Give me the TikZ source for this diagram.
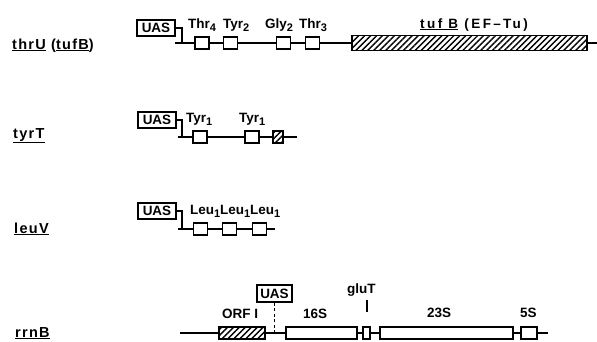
\documentclass[tikz,border=0pt]{standalone}
\usepackage{fontspec}
\setmainfont{Liberation Sans}
\usetikzlibrary{patterns.meta}
\newcommand{\lsub}[1]{\raisebox{-3.5pt}{\fontsize{11}{11}\selectfont #1}}
\tikzset{
  ln/.style={line width=1.7pt},
  uas/.style={draw, line width=1.7pt, inner sep=0pt, minimum height=16pt, minimum width=38pt, font=\fontsize{13.5}{13.5}\selectfont\bfseries},
  trna/.style={draw, line width=1.7pt, fill=white, minimum width=14pt, minimum height=12pt, inner sep=0pt},
  rbox/.style={draw, line width=1.7pt, fill=white, minimum height=12pt, inner sep=0pt},
  hatch/.style={draw, line width=1.7pt, inner sep=0pt, pattern={Lines[angle=45,distance=4.2pt,line width=1.4pt]}},
  lab/.style={anchor=base west, inner sep=0pt, font=\fontsize{13.5}{13.5}\selectfont\bfseries},
  gname/.style={anchor=base west, inner sep=0pt, font=\fontsize{14.5}{14.5}\selectfont\bfseries\addfontfeature{LetterSpace=9}},
}
\begin{document}
\begin{tikzpicture}[x=1pt,y=-1pt]
\useasboundingbox (0,0) rectangle (597,341);
% ---------- row 1: thrU (tufB)
\node[gname] (g1) at (12,49) {\underline{thrU} (\underline{tufB})};
\node[uas] (u1) at (156,28) {UAS};
\coordinate (b1) at (182,28);
\coordinate (c1) at (182,43);
\coordinate (s1) at (175,43);
\node[trna] (t1a) at (202,43) {};
\node[trna] (t1b) at (230.5,43) {};
\node[trna] (t1c) at (283.5,43) {};
\node[trna] (t1d) at (312.5,43) {};
\node[hatch, minimum width=235pt, minimum height=15pt] (tuf) at (469.5,43) {};
\coordinate (e1) at (597,43);
\draw[ln] (u1.east) -- (b1) -- (c1);
\draw[ln] (s1) -- (t1a) -- (t1b) -- (t1c) -- (t1d) -- (tuf) -- (e1);
\node[lab] (l1a) at (188,28) {Thr\lsub{4}};
\node[lab] (l1b) at (223,28) {Tyr\lsub{2}};
\node[lab] (l1c) at (265,28) {Gly\lsub{2}};
\node[lab] (l1d) at (299,28) {Thr\lsub{3}};
\node[lab, font=\fontsize{13.5}{13.5}\selectfont\bfseries\addfontfeature{LetterSpace=18}] (l1e) at (420,28) {\underline{tuf B} (EF\,–\,Tu)};
% ---------- row 2: tyrT
\node[gname] (g2) at (13,138) {\underline{tyrT}};
\node[uas] (u2) at (157,120) {UAS};
\coordinate (b2) at (182,120);
\coordinate (c2) at (182,137);
\coordinate (s2) at (178,137);
\node[trna] (t2a) at (200,137) {};
\node[trna] (t2b) at (252,137) {};
\node[hatch, minimum width=10pt, minimum height=12pt] (h2) at (278,137) {};
\coordinate (e2) at (297,137);
\draw[ln] (u2.east) -- (b2) -- (c2);
\draw[ln] (s2) -- (t2a) -- (t2b) -- (h2) -- (e2);
\node[lab] (l2a) at (186,122) {Tyr\lsub{1}};
\node[lab] (l2b) at (239,122) {Tyr\lsub{1}};
% ---------- row 3: leuV
\node[gname] (g3) at (14,233) {\underline{leuV}};
\node[uas] (u3) at (157,211) {UAS};
\coordinate (b3) at (182,211);
\coordinate (c3) at (182,229);
\coordinate (s3) at (178,229);
\node[trna] (t3a) at (200.5,229) {};
\node[trna] (t3b) at (229.5,229) {};
\node[trna] (t3c) at (259.5,229) {};
\coordinate (e3) at (275,229);
\draw[ln] (u3.east) -- (b3) -- (c3);
\draw[ln] (s3) -- (t3a) -- (t3b) -- (t3c) -- (e3);
\node[lab] (l3a) at (190,214) {Leu\lsub{1}};
\node[lab] (l3b) at (220,214) {Leu\lsub{1}};
\node[lab] (l3c) at (250,214) {Leu\lsub{1}};
% ---------- row 4: rrnB
\node[gname] (g4) at (15,337) {\underline{rrnB}};
\coordinate (s4) at (180,333);
\node[hatch, minimum width=46pt, minimum height=12pt] (orf) at (242,333) {};
\node[rbox, minimum width=71pt] (r16) at (321.5,333) {};
\node[rbox, minimum width=7pt] (glu) at (366.5,333) {};
\node[rbox, minimum width=133pt] (r23) at (446.5,333) {};
\node[rbox, minimum width=16pt] (r5) at (529,333) {};
\coordinate (e4) at (548,333);
\draw[ln] (s4) -- (orf) -- (r16) -- (glu) -- (r23) -- (r5) -- (e4);
\node[uas, minimum width=35pt, minimum height=17pt] (u4) at (274.5,293.5) {UAS};
\coordinate (d4) at (274.5,333);
\draw[ln, dash pattern=on 3pt off 2.5pt] (u4) -- (d4);
\coordinate (k1) at (367,300);
\coordinate (k2) at (367,312);
\draw[ln] (k1) -- (k2);
\node[lab] (lgl) at (347,293) {gluT};
\node[lab] (lorf) at (222,318) {ORF I};
\node[lab] (l16) at (303,318) {16S};
\node[lab] (l23) at (427,317) {23S};
\node[lab] (l5) at (520,317) {5S};
\end{tikzpicture}
\end{document}
